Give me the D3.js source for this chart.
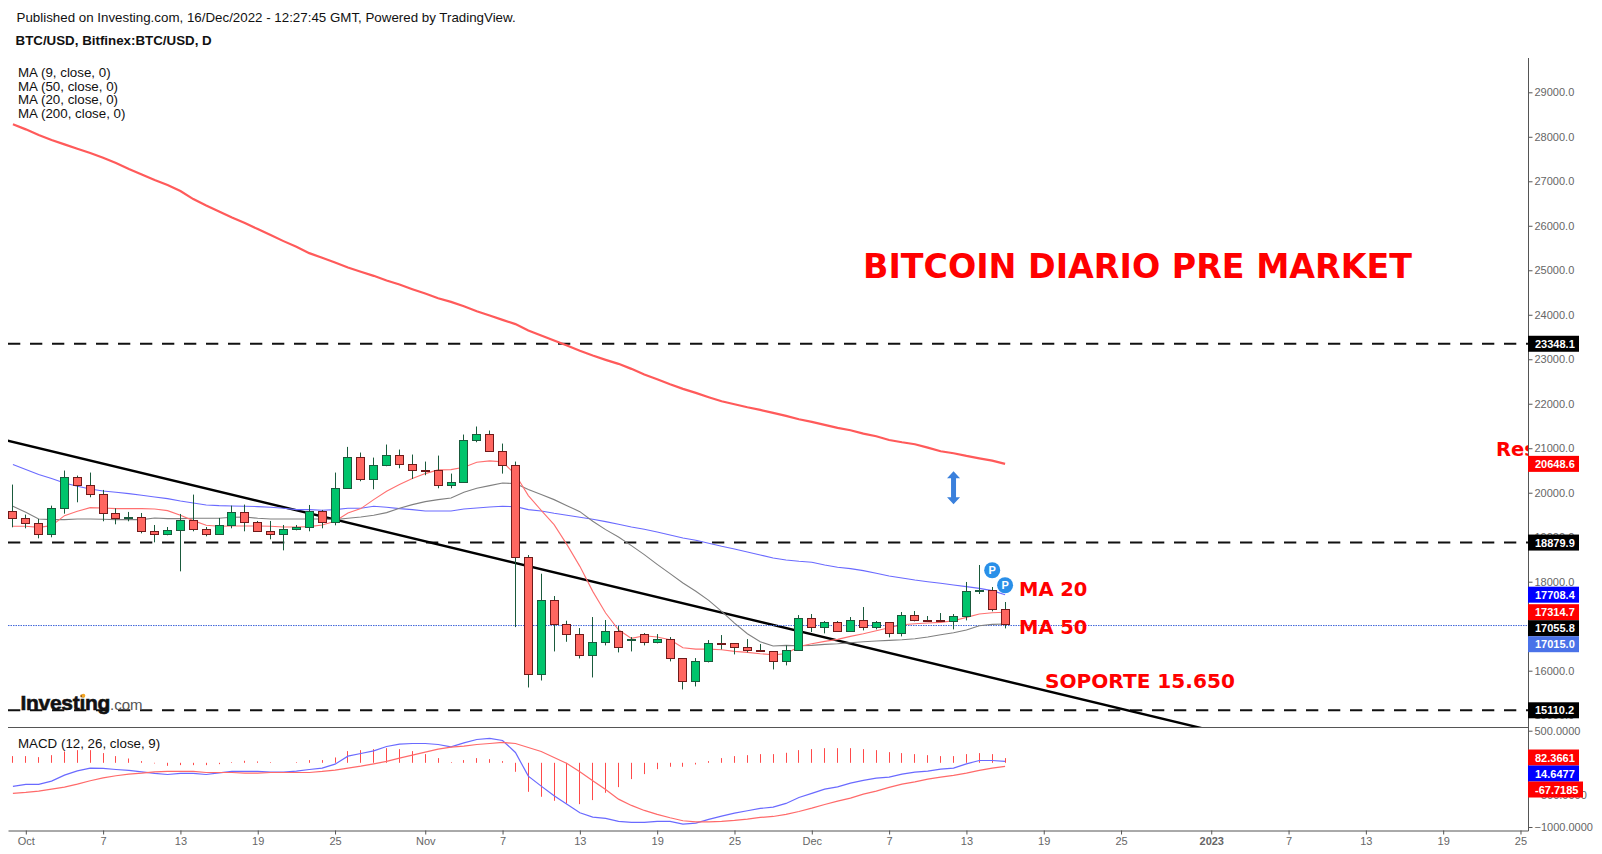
<!DOCTYPE html>
<html>
<head>
<meta charset="utf-8">
<title>BTC/USD</title>
<script src="https://cdn.jsdelivr.net/npm/d3@7"></script>
<style>
    html, body { margin: 0; padding: 0; background: #fff; }
    svg { display: block; font-family: "Liberation Sans", Arial, sans-serif; }
    .y-axis text, .x-axis text, .macd-axis text { fill: #666; font-size: 11px; }
    .y-axis line, .x-axis line, .macd-axis line { stroke: #555; }
    .note { font-family: "DejaVu Sans", Verdana, sans-serif; font-weight: bold; fill: #ff0000; }
</style>
</head>
<body>
<div id="chart"></div>
<script>
// daily candles, 30 Sep 2022 to 16 Dec 2022
var opens = [19590,19433,19320,19073,19657,20355,20175,19973,19545,19425,
    19455,19140,19065,19163,19388,19185,19073,19275,19568,19343,
    19140,19073,19185,19230,19590,19343,20108,20805,20310,20625,
    20850,20648,20520,20513,20175,20243,21188,21323,20940,20625,
    18555,15923,17588,17048,16823,16350,16644,16891,16688,16824,
    16644,16711,16284,15766,16216,16629,16621,16531,16464,16441,
    16209,16464,17184,16981,17086,16891,17139,16981,17094,16846,
    17251,17146,17139,17116,17229,17791,17814,17386];
var highs = [20183,19508,19410,19710,20498,20385,20453,20063,19650,19568,
    19545,19275,19230,19523,19958,19230,19433,19710,19733,19365,
    19365,19275,19275,19725,19613,20453,21030,20903,20790,21083,
    20970,20858,20700,20835,20430,21308,21488,21398,21105,20700,
    18600,18180,17678,17123,16958,17206,17139,17004,16756,16846,
    16824,16756,16284,16284,16689,16801,16621,16711,16599,16441,
    16569,17251,17274,17116,17116,17206,17431,17116,17094,17319,
    17341,17229,17296,17274,17994,18376,17881,17544];
var lows = [19223,19200,18975,18998,19530,19785,19898,19358,19290,19358,
    19088,18885,19043,18233,19133,19020,19073,19200,19133,19140,
    18953,18705,19155,19133,19200,19268,20108,20258,20078,20595,
    20550,20310,20393,20100,20100,20243,21135,20940,20430,16980,
    15623,15780,16433,16650,16275,15848,16569,16411,16433,16569,
    16614,16209,15579,15646,16186,16479,16366,16411,16434,16029,
    16119,16464,16869,16839,16891,16891,16906,16929,16749,16771,
    17109,17131,17116,16929,17131,17724,17334,16951];
var closes = [19433,19320,19073,19657,20355,20175,19973,19545,19433,19455,
    19140,19073,19163,19388,19185,19073,19275,19568,19343,19140,
    19073,19185,19230,19590,19343,20108,20805,20310,20625,20850,
    20648,20513,20505,20175,20243,21188,21323,20940,20625,18555,
    15923,17588,17048,16823,16350,16644,16891,16531,16718,16644,
    16711,16284,15766,16216,16629,16614,16531,16464,16434,16216,
    16464,17184,16981,17086,16891,17139,16981,17094,16846,17251,
    17139,17131,17116,17229,17791,17814,17386,17056];

// moving averages
var ma9 = [19245,19245,19222,19260,19485,19582,19665,19658,19643,19643,
    19643,19635,19598,19493,19373,19268,19245,19253,19253,19253,
    19245,19230,19230,19238,19275,19358,19545,19643,19845,20033,
    20183,20318,20430,20513,20520,20573,20685,20715,20693,20408,
    19935,19605,19283,18833,18345,17783,17296,16921,16726,16786,
    16756,16696,16516,16486,16486,16471,16434,16411,16381,16359,
    16381,16546,16606,16659,16704,16771,16831,16899,16966,17034,
    17056,17071,17086,17124,17199,17274,17304,17315];
var ma20 = [19695,19560,19410,19395,19395,19410,19410,19403,19395,19395,
    19395,19433,19418,19418,19425,19425,19425,19448,19455,19425,
    19410,19410,19410,19410,19410,19395,19425,19455,19493,19553,
    19650,19733,19800,19845,19883,20010,20100,20160,20220,20205,
    20070,19958,19845,19710,19575,19358,19171,19006,18811,18609,
    18391,18181,17971,17784,17581,17334,17071,16831,16651,16554,
    16569,16561,16569,16591,16606,16629,16651,16666,16681,16696,
    16719,16756,16809,16854,16914,17011,17041,17049];
var ma50 = [20633,20520,20408,20318,20220,20145,20085,20040,20010,19980,
    19943,19905,19868,19815,19770,19725,19710,19703,19695,19688,
    19673,19650,19620,19620,19605,19620,19650,19650,19695,19673,
    19643,19620,19590,19590,19590,19635,19658,19680,19695,19688,
    19620,19590,19538,19493,19448,19403,19351,19291,19231,19179,
    19119,19051,18984,18931,18864,18796,18736,18669,18601,18534,
    18489,18459,18436,18376,18324,18294,18249,18189,18129,18084,
    18039,18001,17964,17926,17889,17851,17799,17708];
var ma200 = [28280,28167,28040,27927,27830,27732,27635,27530,27410,27275,
    27155,27027,26915,26780,26600,26457,26322,26187,26060,25925,
    25790,25655,25527,25385,25280,25175,25062,24965,24875,24770,
    24680,24575,24477,24372,24290,24192,24080,23982,23885,23790,
    23647,23534,23422,23309,23189,23084,22987,22897,22784,22657,
    22552,22439,22334,22244,22147,22057,21989,21922,21862,21794,
    21727,21652,21592,21524,21457,21404,21329,21269,21186,21134,
    21089,21014,20932,20887,20827,20774,20722,20649];

// MACD (12, 26, close, 9)
var macdLine = [-368,-337,-337,-285,-192,-125,-83,-88,-104,-119,
    -140,-166,-182,-166,-166,-182,-156,-135,-135,-135,
    -145,-145,-130,-104,-83,-21,104,145,187,254,
    291,301,301,285,249,311,363,379,348,161,
    -208,-363,-514,-644,-779,-846,-867,-913,-929,-929,
    -913,-913,-955,-939,-882,-830,-784,-747,-711,-690,
    -633,-540,-477,-410,-374,-317,-275,-239,-223,-176,
    -145,-130,-99,-83,-16,36,36,21];
var macdSignal = [-477,-462,-441,-410,-379,-332,-280,-234,-202,-176,
    -161,-140,-135,-135,-135,-151,-151,-151,-161,-161,
    -151,-151,-151,-151,-135,-114,-83,-52,-16,21,
    73,119,166,213,244,260,285,301,317,301,
    239,176,83,-10,-140,-280,-415,-566,-664,-742,
    -804,-856,-903,-919,-919,-913,-898,-877,-851,-836,
    -804,-758,-706,-649,-597,-550,-488,-441,-384,-332,
    -296,-254,-223,-197,-161,-119,-83,-57];
var macdHist = [104,104,88,119,176,197,197,151,104,67,
    26,-10,-47,-36,-36,-36,-21,10,31,21,
    10,0,10,42,42,83,182,197,213,228,
    213,182,135,73,10,42,73,57,26,-140,
    -452,-529,-592,-633,-644,-581,-467,-379,-254,-176,
    -99,-62,-62,-26,26,73,104,119,135,135,
    156,197,213,228,228,228,213,197,166,151,
    135,119,104,104,135,151,135,73];

// axis ticks (17000 and 0 sit fully behind the price tags)
var priceTicks = [15000,16000,18000,19000,20000,21000,22000,23000,24000,25000,26000,27000,28000,29000];
var macdTicks = [500,-500,-1000];
var dateTicks = ["2022-10-01","2022-10-07","2022-10-13","2022-10-19","2022-10-25","2022-11-01","2022-11-07","2022-11-13","2022-11-19","2022-11-25",
    "2022-12-01","2022-12-07","2022-12-13","2022-12-19","2022-12-25","2023-01-01","2023-01-07","2023-01-13","2023-01-19","2023-01-25"];
var dateTickLabels = ["Oct","7","13","19","25","Nov","7","13","19","25","Dec","7","13","19","25","2023","7","13","19","25"];

// drawings on the chart
var levels = [23348.1, 18879.9, 15110.2];
// trend line runs on past the pane and gets clipped
var trendDates = ["2022-09-29", "2023-01-05"];
var trendPrices = [21210, 14378];
var currentPrice = 17015;
var pivotDates = ["2022-12-15", "2022-12-16"];
var pivotPrices = [18257, 17920];
var arrowDate = "2022-12-12";
var arrowPrices = [20480, 19740];
var legendTexts = ["MA (9, close, 0)", "MA (50, close, 0)", "MA (20, close, 0)", "MA (200, close, 0)"];

// price tags on the right axis
var priceTags = [
    {value: 23348.1, text: "23348.1", color: "#000000"},
    {value: 20648.6, text: "20648.6", color: "#ff0000"},
    {value: 18879.9, text: "18879.9", color: "#000000"},
    {value: 17708.4, text: "17708.4", color: "#0000ff"},
    {value: 17314.7, text: "17314.7", color: "#ff0000"},
    {value: 17055.8, text: "17055.8", color: "#000000"},
    {value: 17015.0, text: "17015.0", color: "#4a72e8"},
    {value: 15110.2, text: "15110.2", color: "#000000"}
];
var macdTags = [
    {value: 82.3661, text: "82.3661", color: "#ff0000"},
    {value: 14.6477, text: "14.6477", color: "#0000ff"},
    {value: -67.7185, text: "-67.7185", color: "#ff0000"}
];

var width = 1602, height = 854;
var paneLeft = 8, paneRight = 1528, paneTop = 58, split = 727, paneBottom = 831;

var parseDay = function(s) { return new Date(s + "T00:00:00Z"); };
var dayMs = 24 * 3600 * 1000;
var firstDay = parseDay("2022-09-30").getTime();
var days = closes.map(function(d, i) { return new Date(firstDay + i * dayMs); });

var x = d3.scaleUtc()
    .domain([parseDay("2022-10-01"), parseDay("2022-12-01")])
    .range([25.8, 811.8]);
x.domain([x.invert(paneLeft), x.invert(paneRight)]).range([paneLeft, paneRight]);

var y = d3.scaleLinear().domain([16000, 29000]).range([670.7, 92.3]);
var yMacd = d3.scaleLinear().domain([0, -1000]).range([762.8, 827]);

var svg = d3.select("#chart").append("svg")
    .attr("width", width)
    .attr("height", height);

svg.append("clipPath").attr("id", "pane")
    .append("rect")
    .attr("x", paneLeft).attr("y", paneTop)
    .attr("width", paneRight - paneLeft).attr("height", split - paneTop);
svg.append("clipPath").attr("id", "macd-pane")
    .append("rect")
    .attr("x", paneLeft).attr("y", split)
    .attr("width", paneRight - paneLeft).attr("height", paneBottom - split);

var main = svg.append("g").attr("clip-path", "url(#pane)");

// candle x sits on a whole pixel like the original
function cx(i) { return Math.floor(x(days[i])) + 0.5; }

// dashed levels and the trend line go under everything
main.selectAll("line.level")
    .data(levels)
    .enter().append("line")
    .attr("class", "level")
    .attr("x1", paneLeft).attr("x2", paneRight)
    .attr("y1", function(d) { return y(d); })
    .attr("y2", function(d) { return y(d); })
    .attr("stroke", "#111")
    .attr("stroke-width", 2)
    .attr("stroke-dasharray", "12.3,9.7");

main.append("line")
    .attr("x1", x(parseDay(trendDates[0]))).attr("y1", y(trendPrices[0]))
    .attr("x2", x(parseDay(trendDates[1]))).attr("y2", y(trendPrices[1]))
    .attr("stroke", "#000")
    .attr("stroke-width", 2.4);

main.append("line")
    .attr("x1", paneLeft).attr("x2", paneRight)
    .attr("y1", y(currentPrice)).attr("y2", y(currentPrice))
    .attr("stroke", "#3f66d8")
    .attr("stroke-width", 1)
    .attr("stroke-dasharray", "1.5,1");

var maLine = d3.line()
    .x(function(d, i) { return x(days[i]); })
    .y(function(d) { return y(d); });

main.append("path").datum(ma50).attr("d", maLine).attr("fill", "none").attr("stroke", "#6a6aff").attr("stroke-width", 1.1);
main.append("path").datum(ma20).attr("d", maLine).attr("fill", "none").attr("stroke", "#808080").attr("stroke-width", 1.1);
main.append("path").datum(ma9).attr("d", maLine).attr("fill", "none").attr("stroke", "#ff7070").attr("stroke-width", 1.1);
main.append("path").datum(ma200).attr("d", maLine).attr("fill", "none").attr("stroke", "#ff5a5a").attr("stroke-width", 2.2);

// candles
var candle = main.selectAll("g.candle")
    .data(closes)
    .enter().append("g")
    .attr("class", "candle");

candle.append("line")
    .attr("x1", function(d, i) { return cx(i); })
    .attr("x2", function(d, i) { return cx(i); })
    .attr("y1", function(d, i) { return y(highs[i]); })
    .attr("y2", function(d, i) { return y(lows[i]); })
    .attr("stroke", "#1a5a3c")
    .attr("stroke-width", 1);

candle.append("rect")
    .attr("x", function(d, i) { return cx(i) - 4; })
    .attr("width", 8)
    .attr("y", function(d, i) { return Math.round(y(Math.max(opens[i], closes[i]))) + 0.5; })
    .attr("height", function(d, i) {
        return Math.max(0.5, Math.round(Math.abs(y(opens[i]) - y(closes[i]))));
    })
    .attr("fill", function(d, i) { return closes[i] >= opens[i] ? "#00c46c" : "#ff6660"; })
    .attr("stroke", function(d, i) { return closes[i] >= opens[i] ? "#1a5a3c" : "#701a1a"; })
    .attr("stroke-width", 1);

// the blue double arrow
var arrowX = x(parseDay(arrowDate));
var arrowTop = y(arrowPrices[0]), arrowBottom = y(arrowPrices[1]);
main.append("path")
    .attr("d", d3.line()([
        [arrowX, arrowTop], [arrowX + 6.5, arrowTop + 7], [arrowX + 2.5, arrowTop + 7],
        [arrowX + 2.5, arrowBottom - 7], [arrowX + 6.5, arrowBottom - 7], [arrowX, arrowBottom],
        [arrowX - 6.5, arrowBottom - 7], [arrowX - 2.5, arrowBottom - 7],
        [arrowX - 2.5, arrowTop + 7], [arrowX - 6.5, arrowTop + 7]
    ]) + "Z")
    .attr("fill", "#3a80dc");

// P markers
var pivot = main.selectAll("g.pivot")
    .data(pivotPrices)
    .enter().append("g")
    .attr("class", "pivot")
    .attr("transform", function(d, i) {
        return "translate(" + x(parseDay(pivotDates[i])) + "," + y(d) + ")";
    });
pivot.append("circle").attr("r", 8).attr("fill", "#2a8fe8");
pivot.append("text")
    .attr("text-anchor", "middle")
    .attr("y", 4)
    .attr("fill", "#fff")
    .attr("font-size", 11)
    .attr("font-weight", "bold")
    .text("P");

// notes written on the chart
main.append("text").attr("class", "note").attr("x", 863).attr("y", 278).attr("font-size", 33.3).text("BITCOIN DIARIO PRE MARKET");
main.append("text").attr("class", "note").attr("x", 1019).attr("y", 596).attr("font-size", 19.5).text("MA 20");
main.append("text").attr("class", "note").attr("x", 1019).attr("y", 634).attr("font-size", 19.5).text("MA 50");
main.append("text").attr("class", "note").attr("x", 1045).attr("y", 688).attr("font-size", 20.1).text("SOPORTE 15.650");
main.append("text").attr("class", "note").attr("x", 1496).attr("y", 456).attr("font-size", 19.5).text("Res");

// Investing watermark
svg.append("text").attr("x", 20.5).attr("y", 710)
    .attr("font-size", 21).attr("font-weight", "bold").attr("letter-spacing", -0.3)
    .attr("fill", "#111").attr("stroke", "#111").attr("stroke-width", 0.6)
    .text("Investing");
svg.append("text").attr("x", 110).attr("y", 710)
    .attr("font-size", 15).attr("fill", "#555")
    .text(".com");
svg.append("circle").attr("cx", 83.3).attr("cy", 695.7).attr("r", 2).attr("fill", "#f5a623");

// MACD pane
var macd = svg.append("g").attr("clip-path", "url(#macd-pane)");

macd.selectAll("line.hist")
    .data(macdHist)
    .enter().append("line")
    .attr("class", "hist")
    .attr("x1", function(d, i) { return cx(i); })
    .attr("x2", function(d, i) { return cx(i); })
    .attr("y1", yMacd(0))
    .attr("y2", function(d) { return yMacd(d); })
    .attr("stroke", "#ff4a4a")
    .attr("stroke-width", 1);

var macdPath = d3.line()
    .x(function(d, i) { return x(days[i]); })
    .y(function(d) { return yMacd(d); });

macd.append("path").datum(macdLine).attr("d", macdPath).attr("fill", "none").attr("stroke", "#6a6aff").attr("stroke-width", 1.2);
macd.append("path").datum(macdSignal).attr("d", macdPath).attr("fill", "none").attr("stroke", "#ff6a6a").attr("stroke-width", 1.2);

// axes
var yAxis = d3.axisRight(y)
    .tickValues(priceTicks)
    .tickSize(4)
    .tickPadding(2)
    .tickFormat(d3.format(".1f"));
var gy = svg.append("g")
    .attr("class", "y-axis")
    .attr("transform", "translate(" + (paneRight + 0.5) + ",0)")
    .call(yAxis);
gy.select(".domain").remove();

var macdAxis = d3.axisRight(yMacd)
    .tickValues(macdTicks)
    .tickSize(4)
    .tickPadding(2)
    .tickFormat(d3.format(".4f"));
var gm = svg.append("g")
    .attr("class", "macd-axis")
    .attr("transform", "translate(" + (paneRight + 0.5) + ",0)")
    .call(macdAxis);
gm.select(".domain").remove();

var xAxis = d3.axisBottom(x)
    .tickValues(dateTicks.map(parseDay))
    .tickSize(4)
    .tickSizeOuter(0)
    .tickPadding(3)
    .tickFormat(function(d, i) { return dateTickLabels[i]; });
var gx = svg.append("g")
    .attr("class", "x-axis")
    .attr("transform", "translate(0," + (paneBottom - 0.5) + ")")
    .call(xAxis);
gx.select(".domain").attr("stroke", "#555");
gx.selectAll("text")
    .filter(function(d, i) { return dateTickLabels[i] === "2023"; })
    .attr("font-weight", "bold");

// frame lines
svg.append("line").attr("x1", paneRight + 0.5).attr("x2", paneRight + 0.5).attr("y1", paneTop).attr("y2", paneBottom).attr("stroke", "#555");
svg.append("line").attr("x1", paneLeft).attr("x2", paneRight).attr("y1", split + 0.5).attr("y2", split + 0.5).attr("stroke", "#555");

// tags stack downwards when they would overlap
function drawTags(tags, scale) {
    var last = -Infinity;
    tags.forEach(function(t) {
        var pos = Math.max(scale(t.value), last + 16);
        last = pos;
        svg.append("rect")
            .attr("x", paneRight)
            .attr("y", pos - 8)
            .attr("width", t.text.length > 7 ? 55 : 51)
            .attr("height", 16)
            .attr("fill", t.color);
        svg.append("text")
            .attr("x", paneRight + 7)
            .attr("y", pos + 4)
            .attr("fill", "#fff")
            .attr("font-size", 11)
            .attr("font-weight", "bold")
            .text(t.text);
    });
}
drawTags(priceTags, y);
drawTags(macdTags, yMacd);

// header and legends
svg.append("text").attr("x", 16.5).attr("y", 22).attr("font-size", 13.33).attr("fill", "#111")
    .text("Published on Investing.com, 16/Dec/2022 - 12:27:45 GMT, Powered by TradingView.");
svg.append("text").attr("x", 15.5).attr("y", 45).attr("font-size", 13.33).attr("font-weight", "bold").attr("fill", "#111")
    .text("BTC/USD, Bitfinex:BTC/USD, D");

svg.selectAll("text.legend")
    .data(legendTexts)
    .enter().append("text")
    .attr("class", "legend")
    .attr("x", 18)
    .attr("y", function(d, i) { return 77 + i * 13.5; })
    .attr("font-size", 13.33)
    .attr("fill", "#111")
    .text(function(d) { return d; });

svg.append("text").attr("x", 18).attr("y", 748).attr("font-size", 13.33).attr("fill", "#111")
    .text("MACD (12, 26, close, 9)");
</script>
</body>
</html>
